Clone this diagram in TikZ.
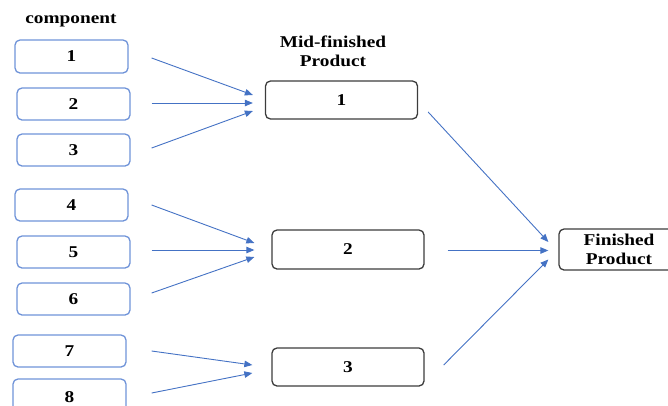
\documentclass[tikz,border=0pt]{standalone}
\usepackage{fontspec}
\setmainfont{Liberation Serif}[FakeStretch=1.17]
\usetikzlibrary{arrows.meta,calc}
\definecolor{arrowblue}{HTML}{4472C4}
\definecolor{compblue}{HTML}{6F93D8}
\definecolor{midgray}{HTML}{3C3C3C}
\tikzset{
  txt/.style={font=\fontsize{16.5}{19}\selectfont\bfseries, align=center, inner sep=0pt},
  compbox/.style={txt, draw=compblue, line width=1.3pt, rounded corners=5pt, minimum width=113pt, minimum height=32pt},
  midbox/.style={txt, draw=midgray, line width=1.3pt, rounded corners=5pt, minimum width=152pt, minimum height=38pt},
  finbox/.style={txt, draw=midgray, line width=1.3pt, rounded corners=5pt, minimum width=120pt, minimum height=41pt},
  conn/.style={draw=arrowblue, line width=0.9pt, -{Triangle[length=8pt,width=6.5pt]}}
}
\begin{document}
\begin{tikzpicture}[x=1pt,y=-1pt]
\useasboundingbox (0,0) rectangle (668,405);
\begin{scope}
\clip (0,0) rectangle (668,405);
\node[txt] (hc) at (71,21) {component};
\node[txt] (hm) at (333,51) {Mid-finished\\Product};

\node[compbox, minimum height=33pt] (c1) at (71.5,56.5) {1};
\node[compbox] (c2) at (73.5,104) {2};
\node[compbox] (c3) at (73.5,150) {3};
\node[compbox] (c4) at (71.5,205) {4};
\node[compbox] (c5) at (73.5,252) {5};
\node[compbox] (c6) at (73.5,299) {6};
\node[compbox] (c7) at (69.5,351) {7};
\node[compbox, minimum height=36pt] (c8) at (69.5,397) {8};

\node[midbox] (m1) at (341.5,100) {1};
\node[midbox, minimum height=39pt] (m2) at (348,249.5) {2};
\node[midbox] (m3) at (348,367) {3};

\node[finbox] (f) at (619,249.5) {Finished\\Product};

\draw[conn] ($(c1.east)+(23,1.5)$) -- ($(m1.west)+(-12,-5)$);
\draw[conn] ($(c2.east)+(21,-1)$) -- ($(m1.west)+(-12,3)$);
\draw[conn] ($(c3.east)+(21,-2)$) -- ($(m1.west)+(-12,11)$);

\draw[conn] ($(c4.east)+(23,0)$) -- ($(m2.west)+(-17,-6.5)$);
\draw[conn] ($(c5.east)+(21,-2)$) -- ($(m2.west)+(-17,0.5)$);
\draw[conn] ($(c6.east)+(21,-6)$) -- ($(m2.west)+(-17,7.5)$);

\draw[conn] ($(c7.east)+(25,0)$) -- ($(m3.west)+(-19,-2)$);
\draw[conn] ($(c8.east)+(25,-4)$) -- ($(m3.west)+(-19,6)$);

\draw[conn] ($(m1.east)+(10,12)$) -- ($(f.west)+(-10,-7.5)$);
\draw[conn] ($(m2.east)+(23,1)$) -- ($(f.west)+(-10,1)$);
\draw[conn] ($(m3.east)+(19,-2)$) -- ($(f.west)+(-10,10)$);
\end{scope}
\end{tikzpicture}
\end{document}
